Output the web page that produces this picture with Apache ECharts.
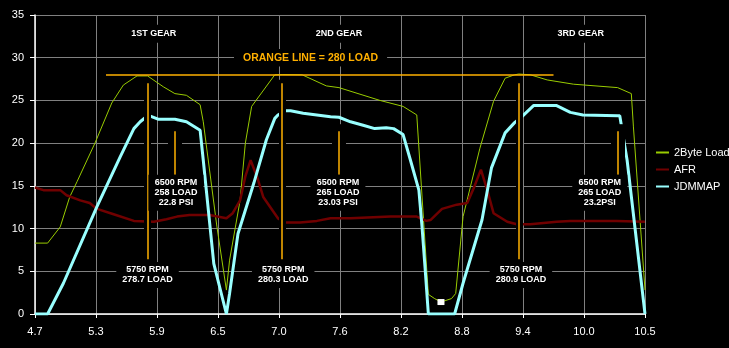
<!DOCTYPE html>
<html>
<head>
<meta charset="utf-8">
<script src="https://cdn.jsdelivr.net/npm/echarts@6/dist/echarts.min.js"></script>
<style>
  html, body { margin: 0; padding: 0; background: #000; }
  #chart { width: 729px; height: 348px; }
</style>
</head>
<body>
<div id="chart"></div>
<script>
// Time axis labels (seconds) shown at each of the 10 equal divisions
const tickLabels = ['4.7', '5.3', '5.9', '6.5', '7.0', '7.6', '8.2', '8.8', '9.4', '10.0', '10.5'];
const T0 = 4.7, STEP = 0.58;

// 2Byte Load (load / 10)
const loadTime = [4.70, 4.82, 4.94, 5.03, 5.10, 5.27, 5.43, 5.54, 5.67, 5.77, 5.92, 6.03, 6.14, 6.27, 6.30, 6.43, 6.52, 6.55, 6.65, 6.70, 6.76, 6.98, 7.05, 7.24, 7.47, 7.59, 7.98, 8.20, 8.33, 8.44, 8.50, 8.56, 8.66, 8.70, 8.77, 8.93, 9.06, 9.17, 9.26, 9.30, 9.41, 9.57, 9.82, 10.24, 10.37, 10.39, 10.50];
const loadValues = [8.3, 8.3, 10.2, 13.7, 15.5, 20.0, 24.7, 26.8, 27.87, 27.87, 26.6, 25.8, 25.6, 24.5, 22.5, 10.2, 2.8, 6.3, 13.3, 20.0, 24.3, 28.0, 28.03, 28.0, 26.7, 26.5, 25.0, 24.3, 23.3, 2.3, 1.8, 1.4, 1.8, 2.4, 11.4, 19.4, 24.9, 27.6, 28.0, 28.09, 28.0, 27.4, 26.9, 26.5, 25.8, 21.9, 2.8];

// AFR
const afrTime = [4.70, 4.78, 4.94, 5.00, 5.13, 5.22, 5.29, 5.44, 5.64, 5.83, 5.95, 6.05, 6.17, 6.36, 6.52, 6.58, 6.65, 6.70, 6.75, 6.81, 6.87, 7.01, 7.08, 7.22, 7.38, 7.51, 7.70, 8.08, 8.33, 8.42, 8.46, 8.57, 8.71, 8.81, 8.87, 8.94, 9.00, 9.06, 9.19, 9.28, 9.41, 9.66, 9.79, 10.23, 10.50];
const afrValues = [14.8, 14.5, 14.5, 13.9, 13.3, 13.0, 12.3, 11.7, 10.9, 10.8, 11.1, 11.4, 11.6, 11.6, 11.2, 11.8, 13.3, 16.1, 18.0, 16.1, 13.7, 11.2, 10.7, 10.7, 10.9, 11.2, 11.2, 11.4, 11.4, 10.9, 11.0, 12.3, 12.8, 13.0, 14.7, 16.9, 14.5, 11.8, 10.8, 10.5, 10.5, 10.8, 10.9, 10.9, 10.8];

// JDMMAP boost (psi)
const mapTime = [4.70, 4.82, 4.97, 5.29, 5.51, 5.64, 5.70, 5.75, 5.79, 5.87, 6.03, 6.14, 6.27, 6.30, 6.40, 6.52, 6.55, 6.63, 6.78, 6.90, 6.98, 7.01, 7.08, 7.13, 7.25, 7.51, 7.59, 7.70, 7.82, 7.93, 8.04, 8.11, 8.20, 8.27, 8.35, 8.38, 8.41, 8.44, 8.69, 8.77, 8.95, 9.04, 9.17, 9.26, 9.33, 9.44, 9.66, 9.79, 9.91, 10.24, 10.26, 10.33, 10.50];
const mapValues = [0, 0, 3.6, 12.6, 18.4, 21.7, 22.5, 23.0, 23.2, 22.8, 22.8, 22.5, 21.5, 18.0, 5.9, 0, 2.4, 9.4, 15.3, 20.4, 22.9, 23.3, 23.8, 23.8, 23.5, 23.1, 23.03, 22.5, 22.1, 21.7, 21.8, 21.7, 21.0, 18.0, 14.5, 10.2, 5.2, 0, 0, 3.6, 11.0, 17.1, 21.2, 22.4, 23.1, 24.4, 24.4, 23.6, 23.3, 23.2, 23.2, 18.0, 0];

// Annotations
const loadRefLevel = 28;                 // 280 load reference
const loadRefSpan = [5.375, 9.63];
const gearNames = ['1ST GEAR', '2ND GEAR', '3RD GEAR'];
const gearTitleTime = [5.83, 7.59, 9.89];
const gearTitleLevel = 32.8;
const rpm5750Time = [5.77, 7.05, 9.30];
const rpm5750Span = [6.4, 27.0];
const rpm5750Text = ['5750 RPM\n278.7 LOAD', '5750 RPM\n280.3 LOAD', '5750 RPM\n280.9 LOAD'];
const rpm5750TextTime = [5.77, 7.06, 9.32];
const rpm5750TextLevel = 4.57;
const rpm6500Time = [6.03, 7.59, 10.24];
const rpm6500Span = [16.3, 21.4];
const rpm6500Text = ['6500 RPM\n258 LOAD\n22.8 PSI', '6500 RPM\n265 LOAD\n23.03 PSI', '6500 RPM\n265 LOAD\n23.2PSI'];
const rpm6500TextTime = [6.04, 7.58, 10.07];
const rpm6500TextLevel = 14.2;
const refLabelText = 'ORANGE LINE = 280 LOAD';
const refLabelPos = [7.32, 30.0];

const toPos = t => (t - T0) / STEP;
const pairs = (ts, vs) => ts.map((t, i) => [toPos(t), vs[i]]);

const FONT = "'Liberation Sans', Arial, sans-serif";
const ORANGE = '#FFB000';

function vSeg(t, span, style) {
  return [{ coord: [toPos(t), span[0]], lineStyle: style }, { coord: [toPos(t), span[1]] }];
}

// black halos that break the grid and curves around the marker lines
const haloLines = [];
const orangeLines = [];
rpm5750Time.forEach(t => {
  haloLines.push(vSeg(t, rpm5750Span, { color: '#000', width: 7, type: 'solid', cap: 'square' }));
  orangeLines.push(vSeg(t, rpm5750Span, { color: ORANGE, width: 1.5, type: 'solid' }));
});
rpm6500Time.forEach(t => {
  haloLines.push(vSeg(t, rpm6500Span, { color: '#000', width: 14, type: 'solid', cap: 'square' }));
  orangeLines.push(vSeg(t, rpm6500Span, { color: ORANGE, width: 1.5, type: 'solid' }));
});
orangeLines.push([
  { coord: [toPos(loadRefSpan[0]), loadRefLevel], lineStyle: { color: ORANGE, width: 1.5, type: 'solid' } },
  { coord: [toPos(loadRefSpan[1]), loadRefLevel] }
]);

const boxLabel = (size, pad) => ({
  show: true, position: 'inside', color: '#fff', fontFamily: FONT, fontWeight: 'bold',
  fontSize: size, lineHeight: size + 1, align: 'center', backgroundColor: '#000', padding: pad
});

const notes = [];
gearNames.forEach((g, i) => notes.push({
  coord: [toPos(gearTitleTime[i]), gearTitleLevel], value: g,
  label: Object.assign(boxLabel(9, [4, 6]), { formatter: g })
}));
rpm5750Text.forEach((s, i) => notes.push({
  coord: [toPos(rpm5750TextTime[i]), rpm5750TextLevel], value: 0,
  label: Object.assign(boxLabel(9, [3, 6]), { formatter: s })
}));
rpm6500Text.forEach((s, i) => notes.push({
  coord: [toPos(rpm6500TextTime[i]), rpm6500TextLevel], value: 0,
  label: Object.assign(boxLabel(9, [3, 6]), { formatter: s })
}));
notes.push({
  coord: [toPos(refLabelPos[0]), refLabelPos[1]], value: 0,
  label: Object.assign(boxLabel(10.5, [3, 9]), { formatter: refLabelText, color: ORANGE })
});

const chart = echarts.init(document.getElementById('chart'));
chart.setOption({
  backgroundColor: '#000',
  animation: false,
  grid: { left: 35, right: 84, top: 15, bottom: 34 },
  legend: {
    data: ['2Byte Load', 'AFR', 'JDMMAP'],
    orient: 'vertical', left: 655, top: 147, padding: 0,
    itemWidth: 13, itemHeight: 12, itemGap: 6,
    itemStyle: { opacity: 0 },
    textStyle: { color: '#fff', fontFamily: FONT, fontSize: 11 }
  },
  xAxis: {
    type: 'value', min: 0, max: tickLabels.length - 1, interval: 1,
    axisLine: { show: true, onZero: false, lineStyle: { color: '#fff', width: 1.5 } },
    axisTick: { show: true, length: 4, lineStyle: { color: '#fff' } },
    axisLabel: { color: '#fff', fontFamily: FONT, fontSize: 11, margin: 12,
      formatter: v => tickLabels[Math.round(v)] },
    splitLine: { show: true, lineStyle: { color: '#808080', width: 1 } }
  },
  yAxis: {
    type: 'value', min: 0, max: 35, interval: 5,
    axisLine: { show: true, lineStyle: { color: '#fff', width: 1.5 } },
    axisTick: { show: true, length: 5, lineStyle: { color: '#fff' } },
    axisLabel: { color: '#fff', fontFamily: FONT, fontSize: 11, margin: 11 },
    splitLine: { show: true, lineStyle: { color: '#808080', width: 1 } }
  },
  series: [
    {
      name: '2Byte Load', type: 'line', symbol: 'none', z: 2,
      data: pairs(loadTime, loadValues),
      lineStyle: { color: '#99CC00', width: 1 }, itemStyle: { color: '#99CC00' },
      markPoint: {
        symbol: 'rect', symbolSize: [7, 6], itemStyle: { color: '#fff', opacity: 1 },
        label: { show: false }, data: [{ type: 'min' }]
      }
    },
    {
      name: 'AFR', type: 'line', symbol: 'none', z: 2,
      data: pairs(afrTime, afrValues),
      lineStyle: { color: '#700000', width: 2.5 }, itemStyle: { color: '#700000' }
    },
    {
      name: 'JDMMAP', type: 'line', symbol: 'none', z: 2,
      data: pairs(mapTime, mapValues),
      lineStyle: { color: '#99FFFF', width: 3 }, itemStyle: { color: '#99FFFF' }
    },
    {
      name: 'halo', type: 'line', data: [], z: 3, silent: true,
      markLine: { silent: true, symbol: ['none', 'none'], label: { show: false }, data: haloLines }
    },
    {
      name: 'markers', type: 'line', data: [], z: 4, silent: true,
      markLine: { silent: true, symbol: ['none', 'none'], label: { show: false }, data: orangeLines }
    },
    {
      name: 'notes', type: 'line', data: [], z: 5, silent: true,
      markPoint: {
        symbol: 'rect', symbolSize: 1, itemStyle: { color: 'rgba(0,0,0,0)' },
        data: notes
      }
    }
  ]
});
</script>
</body>
</html>
